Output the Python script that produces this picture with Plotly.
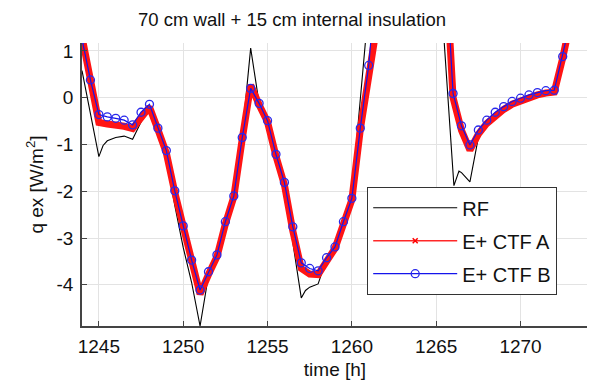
import plotly.graph_objects as go

# ---- data ----
ctf_time = [1244.0, 1244.5, 1245.0, 1245.5, 1246.0, 1246.5, 1247.0, 1247.5, 1248.0, 1248.5,
            1249.0, 1249.5, 1250.0, 1250.5, 1251.0, 1251.5, 1252.0, 1252.5, 1253.0, 1253.5,
            1254.0, 1254.5, 1255.0, 1255.5, 1256.0, 1256.5, 1257.0, 1257.5, 1258.0, 1258.5,
            1259.0, 1259.5, 1260.0, 1260.5, 1261.0, 1261.5, 1262.0, 1262.5, 1263.0, 1263.5,
            1264.0, 1264.5, 1265.0, 1265.5, 1266.0, 1266.5, 1267.0, 1267.5, 1268.0, 1268.5,
            1269.0, 1269.5, 1270.0, 1270.5, 1271.0, 1271.5, 1272.0, 1272.5, 1273.0]

ctf_b = [1.25, 0.38, -0.36, -0.41, -0.44, -0.48, -0.58, -0.31, -0.14, -0.65,
         -1.13, -1.99, -2.74, -3.47, -4.11, -3.72, -3.36, -2.65, -2.10, -0.85,
         0.20, -0.12, -0.49, -1.21, -1.81, -2.76, -3.53, -3.65, -3.70, -3.42,
         -3.19, -2.65, -2.15, -0.65, 0.69, 2.8, 4.0, 4.6, 5.0, 5.2,
         5.1, 4.8, 4.2, 3.3, 0.09, -0.60, -1.01, -0.69, -0.48, -0.31,
         -0.19, -0.08, -0.01, 0.06, 0.11, 0.15, 0.16, 0.88, 1.7]

ctf_a = [1.3, 0.33, -0.53, -0.56, -0.58, -0.61, -0.66, -0.40, -0.20, -0.68,
         -1.18, -2.02, -2.80, -3.55, -4.20, -3.78, -3.40, -2.70, -2.12, -0.88,
         0.27, -0.15, -0.52, -1.25, -1.86, -2.85, -3.65, -3.77, -3.78, -3.50,
         -3.22, -2.70, -2.18, -0.68, 0.66, 2.8, 4.0, 4.6, 5.0, 5.2,
         5.1, 4.8, 4.2, 3.3, 0.0, -0.70, -1.12, -0.78, -0.55, -0.38,
         -0.25, -0.14, -0.06, 0.01, 0.06, 0.10, 0.12, 0.85, 1.7]

rf_time = [1244.0, 1244.5, 1245.0, 1245.25, 1245.5, 1246.0, 1246.5, 1247.0, 1247.5, 1248.0,
           1248.5, 1249.0, 1249.5, 1250.0, 1250.5, 1251.0, 1251.5, 1252.0, 1252.5, 1253.0,
           1253.5, 1254.0, 1254.5, 1255.0, 1255.5, 1256.0, 1256.5, 1257.0, 1257.25, 1257.5,
           1258.0, 1258.5, 1259.0, 1259.5, 1260.0, 1260.5, 1261.0, 1261.5, 1262.0, 1263.0,
           1264.0, 1265.0, 1265.5, 1266.05, 1266.35, 1266.5, 1267.0, 1267.5, 1268.0, 1268.5,
           1269.0, 1269.5, 1270.0, 1270.5, 1271.0, 1271.5, 1272.0, 1272.5, 1273.0]

rf = [0.58, -0.34, -1.26, -1.02, -0.92, -0.85, -0.82, -0.89, -0.52, -0.20,
      -0.72, -1.30, -2.30, -3.20, -3.95, -4.88, -3.80, -3.40, -2.72, -2.12,
      -0.80, 1.06, -0.12, -0.50, -1.25, -1.95, -3.10, -4.28, -4.12, -4.05,
      -3.98, -3.45, -3.15, -2.65, -2.05, 0.0, 1.9, 4.0, 5.0, 5.3,
      5.2, 3.9, 1.05, -1.88, -1.57, -1.60, -1.80, -0.85, -0.55, -0.38,
      -0.25, -0.14, -0.06, 0.01, 0.06, 0.10, 0.12, 0.85, 1.7]

x_ticks = [1245, 1250, 1255, 1260, 1265, 1270]
y_ticks = [-4, -3, -2, -1, 0, 1]

FONT = "Liberation Sans, Arial, sans-serif"

# the page body adds an 8 px offset, so the figure is 8 px smaller than the window
W, H = 587, 377
ML, MR, MT, MB = 74, 7, 35, 59
PW, PH = W - ML - MR, H - MT - MB

fig = go.Figure()

fig.add_trace(go.Scatter(
    x=rf_time, y=rf, mode="lines", name="RF",
    line=dict(color="black", width=1.1),
    legendrank=1, legendgroup="rf"))

# thick red band (dense markers in the original)
fig.add_trace(go.Scatter(
    x=ctf_time, y=ctf_a, mode="lines", name="E+ CTF A",
    line=dict(color="rgb(255,20,20)", width=7),
    showlegend=False, legendgroup="a"))

# legend entry for CTF A
fig.add_trace(go.Scatter(
    x=[None], y=[None], mode="lines+markers", name="E+ CTF A",
    line=dict(color="rgb(255,40,40)", width=1.5),
    marker=dict(symbol="x-thin", size=5, color="red", line=dict(color="red", width=1.5)),
    legendrank=2, legendgroup="a"))

fig.add_trace(go.Scatter(
    x=ctf_time, y=ctf_b, mode="lines+markers", name="E+ CTF B",
    line=dict(color="rgb(20,20,235)", width=1.2),
    marker=dict(symbol="circle-open", size=8, color="rgb(40,40,235)",
                line=dict(width=1.3)),
    legendrank=3, legendgroup="b"))

fig.update_layout(
    width=W, height=H,
    margin=dict(l=ML, r=MR, t=MT, b=MB),
    paper_bgcolor="white", plot_bgcolor="white",
    font=dict(family=FONT, size=19, color="#111"),
    title=dict(text="70 cm wall + 15 cm internal insulation",
               x=284 / W, xanchor="center", y=1 - 12 / H, yanchor="middle",
               font=dict(size=18.5, color="#111")),
    showlegend=True,
    legend=dict(x=(359 - ML) / PW, y=(MT + PH - 179) / PH, xanchor="left", yanchor="top",
                bgcolor="white", bordercolor="#333", borderwidth=1.2,
                font=dict(size=20, color="#111"), itemwidth=84,
                tracegroupgap=4, traceorder="grouped"),
)

fig.update_xaxes(
    range=[1244, 1274], tickvals=x_ticks, ticktext=[str(v) for v in x_ticks],
    showgrid=True, gridcolor="#e3e3e3", gridwidth=1,
    showline=True, linecolor="#444", linewidth=1.5, mirror=False,
    ticks="inside", ticklen=5, tickcolor="#444", zeroline=False,
    ticklabelstandoff=2, automargin=False,
    title=dict(text="time [h]", standoff=7, font=dict(size=19)))

fig.update_yaxes(
    range=[-4.88, 1.17], tickvals=y_ticks, ticktext=[str(v) for v in y_ticks],
    showgrid=True, gridcolor="#e3e3e3", gridwidth=1,
    showline=True, linecolor="#444", linewidth=1.5, mirror=False,
    ticks="inside", ticklen=5, tickcolor="#444", zeroline=False,
    ticklabelstandoff=3, automargin=False,
    title=dict(text="q ex [W/m<sup>2</sup>]", standoff=8, font=dict(size=19)))

fig.write_html("out.html")
